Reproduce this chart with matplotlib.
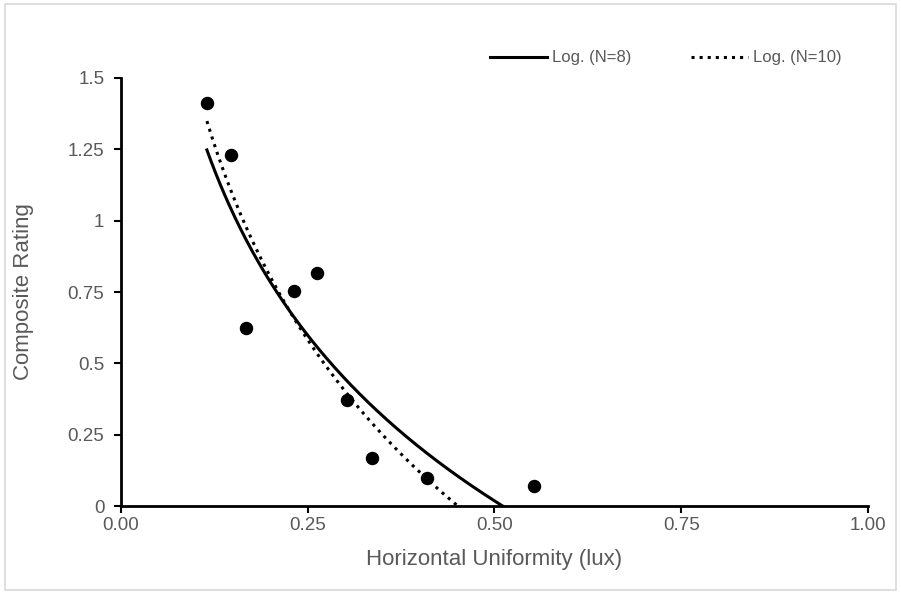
import numpy as np
import matplotlib.pyplot as plt
from matplotlib.patches import Rectangle

# Measured points
uniformity = [0.115, 0.147, 0.167, 0.232, 0.262, 0.303, 0.336, 0.410, 0.553]
rating = [1.413, 1.230, 0.624, 0.754, 0.817, 0.372, 0.168, 0.098, 0.070]

# Logarithmic trendlines y = a + b*ln(x), coefficients
fit_labels = ["Log. (N=8)", "Log. (N=10)"]
fit_a = [-0.5618, -0.7861]
fit_b = [-0.8367, -0.9872]
fit_xmin = [0.115, 0.115]
fit_xmax = [0.511, 0.451]
fit_styles = ["-", ":"]

x_ticks = [0.0, 0.25, 0.5, 0.75, 1.0]
x_ticklabels = ["0.00", "0.25", "0.50", "0.75", "1.00"]
y_ticks = [0, 0.25, 0.5, 0.75, 1, 1.25, 1.5]
y_ticklabels = ["0", "0.25", "0.5", "0.75", "1", "1.25", "1.5"]

plt.rcParams['font.family'] = ['Liberation Sans', 'DejaVu Sans']
grey = "#595959"

fig = plt.figure(figsize=(9.01, 5.94), dpi=100)
ax = fig.add_axes([0.1343, 0.1481, 0.829, 0.7206])

for lab, a, b, x0, x1, ls in zip(fit_labels, fit_a, fit_b, fit_xmin, fit_xmax, fit_styles):
    xs = np.linspace(x0, x1, 200)
    ax.plot(xs, a + b * np.log(xs), color="black", linestyle=ls, linewidth=2.2, label=lab)

ax.scatter(uniformity, rating, s=75, color="black", zorder=3)

ax.set_xlim(0, 1)
ax.set_ylim(0, 1.5)
ax.set_xticks(x_ticks)
ax.set_xticklabels(x_ticklabels)
ax.set_yticks(y_ticks)
ax.set_yticklabels(y_ticklabels)
ax.tick_params(axis="both", colors="black", labelcolor=grey, labelsize=13.5,
               length=5, width=1.5, direction="out")
ax.tick_params(axis="x", pad=3)
ax.tick_params(axis="y", pad=7)

for s in ["top", "right"]:
    ax.spines[s].set_visible(False)
for s in ["left", "bottom"]:
    ax.spines[s].set_linewidth(2)
    ax.spines[s].set_color("black")

ax.set_xlabel("Horizontal Uniformity (lux)", color=grey, fontsize=16, labelpad=11)
ax.set_ylabel("Composite Rating", color=grey, fontsize=16, labelpad=24)

leg = ax.legend(loc="center right", bbox_to_anchor=(0.985, 1.047), ncol=2, frameon=False,
                fontsize=12, handlelength=3.4, handletextpad=0.3, columnspacing=3.6)
for t in leg.get_texts():
    t.set_color(grey)

fig.patches.append(Rectangle((0.006, 0.006), 0.988, 0.988, transform=fig.transFigure,
                             fill=False, edgecolor="#d9d9d9", linewidth=1.2))

fig.savefig("out.png", dpi=100)
